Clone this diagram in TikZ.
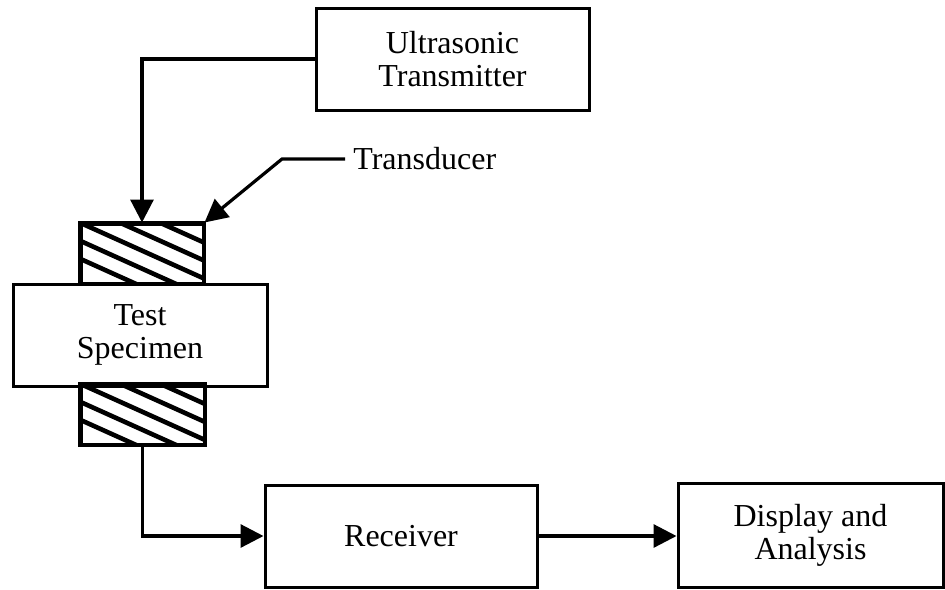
\documentclass[tikz,border=0pt]{standalone}
\usepackage{fontspec}
\setmainfont{Liberation Serif}
\usetikzlibrary{arrows.meta,calc}

\tikzset{
  box/.style={draw, line width=1.5pt, rectangle, inner sep=0pt, align=center,
    font=\fontsize{16}{16.5}\selectfont},
  blockbox/.style={draw, line width=1.5pt, rectangle, inner sep=0pt},
  conn/.style={line width=1.6pt, -{Triangle[length=11.5pt,width=11.5pt]}},
  hatchline/.style={line width=2.3pt},
  lbl/.style={inner xsep=4pt, inner ysep=0pt, font=\fontsize{16}{16.5}\selectfont}
}

\begin{document}
\begin{tikzpicture}[x=0.5pt, y=-0.5pt]
  \useasboundingbox (0,0) rectangle (945,589);

  % main blocks
  \node[box, minimum width=136.5pt, minimum height=51pt] (tx) at (452.5,59)
    {Ultrasonic\\Transmitter};
  \node[box, minimum width=127pt, minimum height=51pt] (spec) at (140,335)
    {Test\\Specimen};
  \node[blockbox, minimum width=61pt, minimum height=29.5pt] (up) at (142,253.5) {};
  \node[blockbox, minimum width=61.5pt, minimum height=29.5pt] (lo) at (142.5,414.5) {};
  \node[box, minimum width=136pt, minimum height=51pt] (rx) at (401,536) {Receiver};
  \node[box, minimum width=132.5pt, minimum height=52pt] (dp) at (810.5,535)
    {Display and\\Analysis};

  % hatching of the two transducers
  \foreach \blk in {up,lo}{
    \begin{scope}
      \clip (\blk.north west) rectangle (\blk.south east);
      \foreach \d in {-80,-40,0,40,80}
        \draw[hatchline] ($(\blk.north west)+(\d,0)$) -- ++(200,90);
    \end{scope}
    \draw[blockbox] (\blk.north west) rectangle (\blk.south east);
  }

  % transducer label with its leader
  \node[lbl, anchor=west] (tdlabel) at (345,159) {Transducer};
  \coordinate (bend) at (282,159);

  % connectors
  \draw[conn] (tx.west) -| (up.north);
  \draw[conn] (tdlabel.west) -- (bend) -- (up.north east);
  \draw[conn] (lo.south) |- (rx.west);
  \draw[conn] (rx.east) -- (rx.east -| dp.west);
\end{tikzpicture}
\end{document}
